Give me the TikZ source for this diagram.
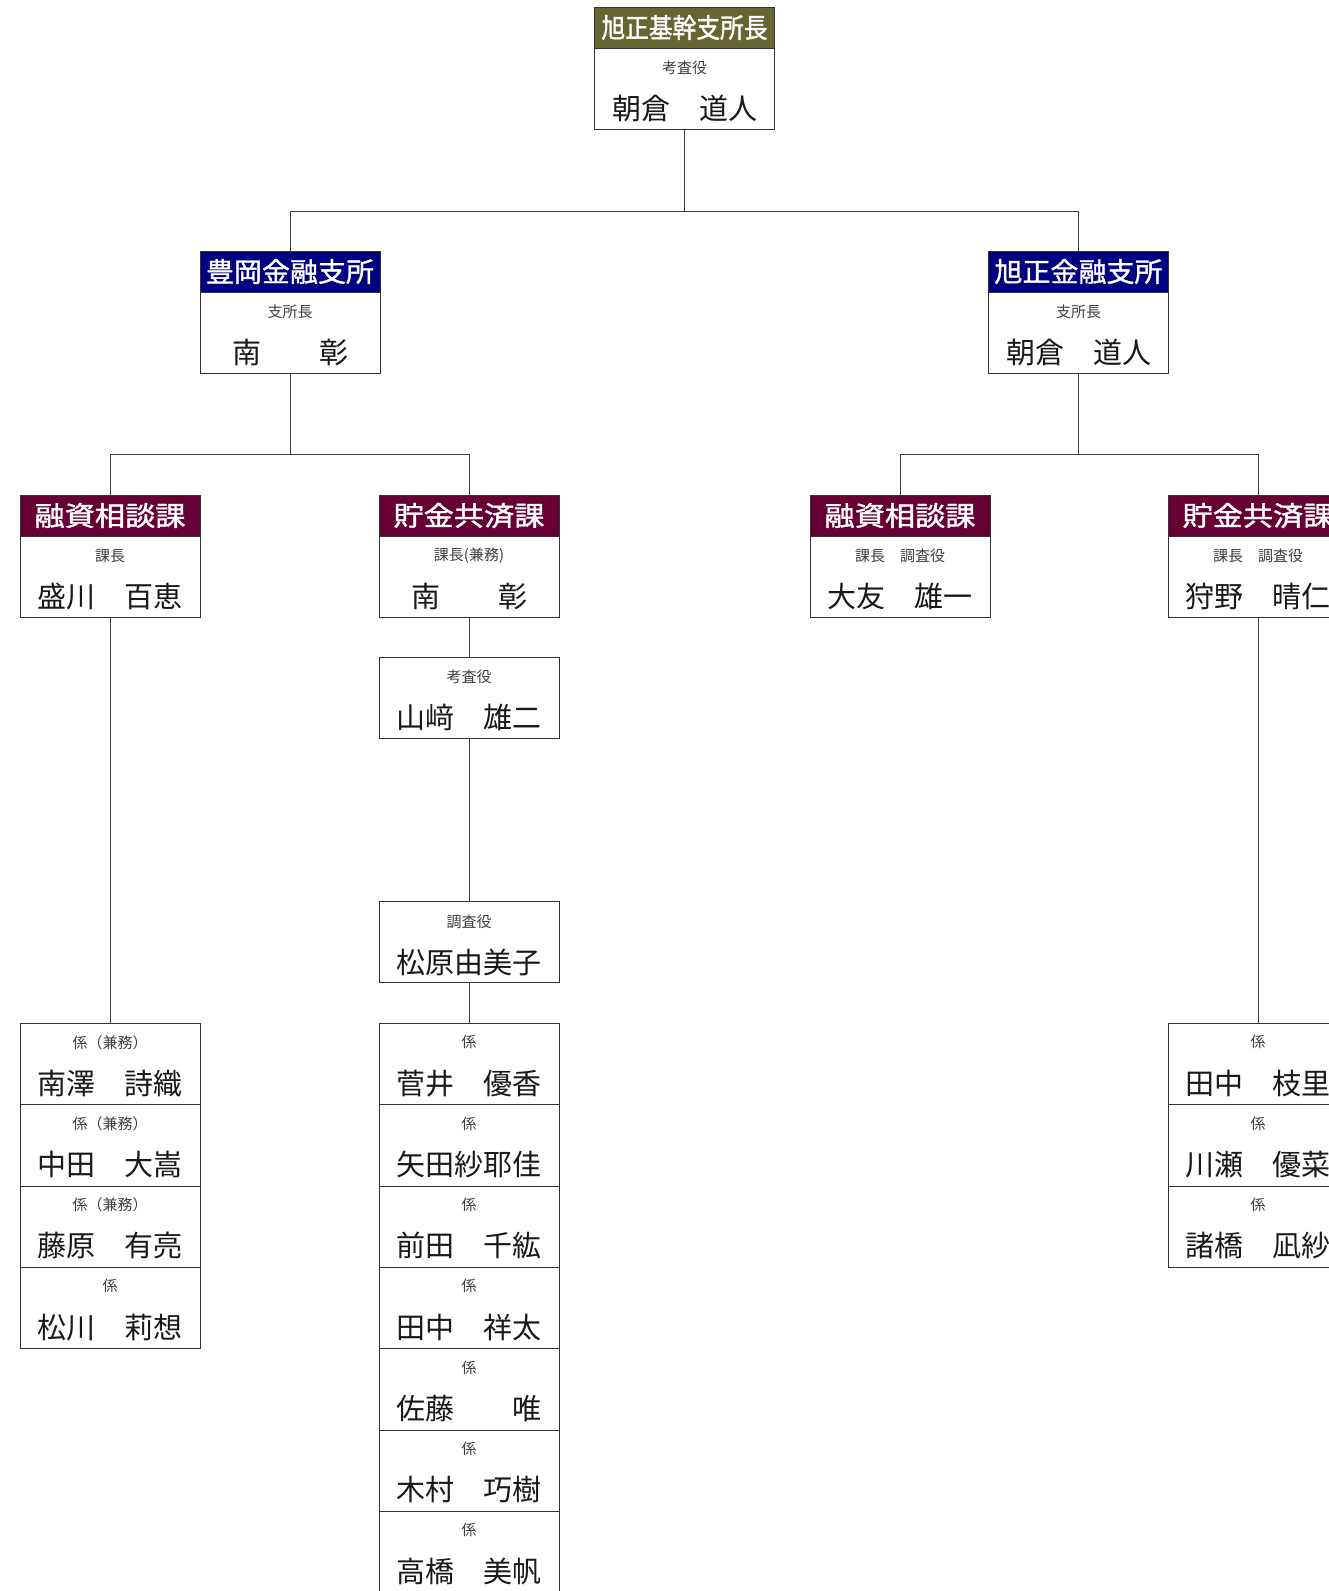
\documentclass[tikz,border=0pt]{standalone}
\usepackage{fontspec}
\usepackage{graphicx}
\setmainfont{Noto Sans CJK JP}
\newfontfamily\hdfont[FakeBold = 1.4]{Noto Sans CJK JP}
\usetikzlibrary{positioning}

\definecolor{olivehd}{HTML}{666633}
\definecolor{navyhd}{HTML}{000080}
\definecolor{winehd}{HTML}{660033}

\newcommand{\hdfit}[2]{\resizebox{#1pt}{\height}{#2}}

\begin{document}
\begin{tikzpicture}[x = 1pt, y = -1pt,
	head/.style = {draw = black!80, fill = #1, minimum width = 180pt, minimum height = 41pt, inner sep = 0pt, outer sep = 0pt,
		anchor = north, text = white, font = \fontsize{27}{29}\hdfont},
	card/.style = {draw = black!80, fill = white, minimum width = 180pt, minimum height = 81pt, inner sep = 0pt, outer sep = 0pt,
		anchor = north},
	role/.style = {text = black!75, inner sep = 0pt, font = \fontsize{15}{17}\selectfont},
	person/.style = {text = black!90, inner sep = 0pt, font = \fontsize{29}{31}\selectfont},
	wire/.style = {draw = black!75, line width = 1pt}]

	\useasboundingbox (0, 0) rectangle (1329, 1591);
	\fill [white] (0, 0) rectangle (1329, 1591);
	\clip (0, 0) rectangle (1329, 1591);

	% top
	\node [head = olivehd] (h0) at (684.5, 7) {\hdfit{166}{旭正基幹支所長}};
	\node [card, below = 0pt of h0] (c0) {};
	\node [role] at ([yshift = -20pt] c0.north) {考査役};
	\node [person] at ([yshift = -60.5pt] c0.north) {朝倉　道人};

	% branches
	\node [head = navyhd] (h1) at (290, 251) {\hdfit{168}{豊岡金融支所}};
	\node [card, below = 0pt of h1] (c1) {};
	\node [role] at ([yshift = -20pt] c1.north) {支所長};
	\node [person] at ([yshift = -60.5pt] c1.north) {南　　彰};

	\node [head = navyhd] (h2) at (1078.5, 251) {\hdfit{168}{旭正金融支所}};
	\node [card, below = 0pt of h2] (c2) {};
	\node [role] at ([yshift = -20pt] c2.north) {支所長};
	\node [person] at ([yshift = -60.5pt] c2.north) {朝倉　道人};

	% sections
	\node [head = winehd] (h3) at (110, 495) {\hdfit{151}{融資相談課}};
	\node [card, below = 0pt of h3] (c3) {};
	\node [role] at ([yshift = -20pt] c3.north) {課長};
	\node [person] at ([yshift = -60.5pt] c3.north) {盛川　百恵};

	\node [head = winehd] (h4) at (469, 495) {\hdfit{151}{貯金共済課}};
	\node [card, below = 0pt of h4] (c4) {};
	\node [role] at ([yshift = -20pt] c4.north) {課長(兼務)};
	\node [person] at ([yshift = -60.5pt] c4.north) {南　　彰};

	\node [head = winehd] (h5) at (900, 495) {\hdfit{151}{融資相談課}};
	\node [card, below = 0pt of h5] (c5) {};
	\node [role] at ([yshift = -20pt] c5.north) {課長　調査役};
	\node [person] at ([yshift = -60.5pt] c5.north) {大友　雄一};

	\node [head = winehd] (h6) at (1258, 495) {\hdfit{151}{貯金共済課}};
	\node [card, below = 0pt of h6] (c6) {};
	\node [role] at ([yshift = -20pt] c6.north) {課長　調査役};
	\node [person] at ([yshift = -60.5pt] c6.north) {狩野　晴仁};

	% staff under 貯金共済課
	\node [card] (k1) at (469, 657) {};
	\node [role] at ([yshift = -20pt] k1.north) {考査役};
	\node [person] at ([yshift = -60.5pt] k1.north) {山﨑　雄二};

	\node [card] (k2) at (469, 901.5) {};
	\node [role] at ([yshift = -20pt] k2.north) {調査役};
	\node [person] at ([yshift = -60.5pt] k2.north) {松原由美子};

	% 係 stacks
	\foreach \job/\who [count = \i] in {係（兼務）/南澤　詩織, 係（兼務）/中田　大嵩, 係（兼務）/藤原　有亮, 係/松川　莉想}{
		\node [card, minimum height = 81.3pt] (la\i) at (110, {1023.3 + 81.3 * (\i - 1)}) {};
		\node [role] at ([yshift = -19pt] la\i.north) {\job};
		\node [person] at ([yshift = -60pt] la\i.north) {\who};
	}

	\foreach \who [count = \i] in {菅井　優香, 矢田紗耶佳, 前田　千紘, 田中　祥太, 佐藤　　唯, 木村　巧樹, 高橋　美帆}{
		\node [card, minimum height = 81.3pt] (lb\i) at (469, {1023.3 + 81.3 * (\i - 1)}) {};
		\node [role] at ([yshift = -19pt] lb\i.north) {係};
		\node [person] at ([yshift = -60pt] lb\i.north) {\who};
	}

	\foreach \who [count = \i] in {田中　枝里, 川瀬　優菜, 諸橋　凪紗}{
		\node [card, minimum height = 81.3pt] (lc\i) at (1258, {1023.3 + 81.3 * (\i - 1)}) {};
		\node [role] at ([yshift = -19pt] lc\i.north) {係};
		\node [person] at ([yshift = -60pt] lc\i.north) {\who};
	}

	% connectors
	\draw [wire] (c0.south) -- ++ (0, 82) -| (h1.north);
	\draw [wire] (c0.south) -- ++ (0, 82) -| (h2.north);
	\draw [wire] (c1.south) -- ++ (0, 81.5) -| (h3.north);
	\draw [wire] (c1.south) -- ++ (0, 81.5) -| (h4.north);
	\draw [wire] (c2.south) -- ++ (0, 81.5) -| (h5.north);
	\draw [wire] (c2.south) -- ++ (0, 81.5) -| (h6.north);

	\draw [wire] (c3.south) -- (la1.north);
	\draw [wire] (c4.south) -- (k1.north);
	\draw [wire] (k1.south) -- (k2.north);
	\draw [wire] (k2.south) -- (lb1.north);
	\draw [wire] (c6.south) -- (lc1.north);

\end{tikzpicture}
\end{document}
